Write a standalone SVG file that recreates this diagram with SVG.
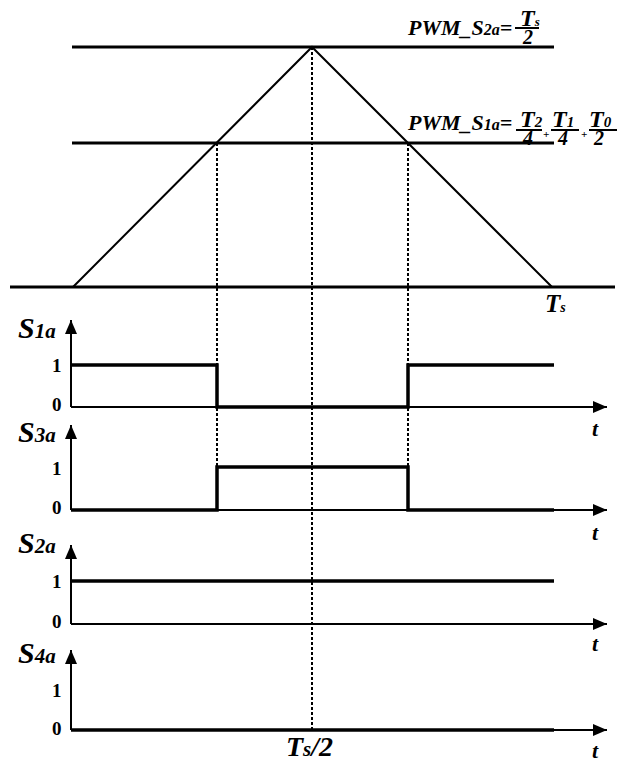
<svg xmlns="http://www.w3.org/2000/svg" width="619" height="765" viewBox="0 0 619 765">
<style>
.lbl{font-family:"Liberation Serif","Times New Roman",serif;font-weight:bold;font-style:italic;fill:#000}
.num{font-family:"Liberation Serif","Times New Roman",serif;font-weight:bold;fill:#000;font-size:19px}
.ref{stroke:#000;stroke-width:3;fill:none}
.tri{stroke:#000;stroke-width:2;fill:none}
.axis{stroke:#000;stroke-width:2;fill:none}
.sig{stroke:#000;stroke-width:3.5;fill:none;stroke-linejoin:miter}
.dash{stroke:#000;stroke-width:2;stroke-dasharray:3 2;fill:none}
.bar{stroke:#000;stroke-width:2}
</style>
<defs>
<marker id="ah" viewBox="0 0 14 12" refX="14" refY="6" markerWidth="14" markerHeight="12" markerUnits="userSpaceOnUse" orient="auto">
<path d="M0,0 L14,6 L0,12 Z" fill="#000"/>
</marker>
</defs>

<g id="carrier">
<line class="ref" x1="72" y1="47" x2="554" y2="47"/>
<line class="ref" x1="72" y1="143" x2="554" y2="143"/>
<line class="ref" x1="10" y1="287" x2="615" y2="287" stroke-width="3.5"/>
<polyline class="tri" points="73,287 312,47 552,287"/>
</g>

<g id="label-pwm-s2a">
<text class="lbl" x="408" y="35" font-size="22">PWM_S<tspan font-size="16">2a</tspan>=</text>
<line class="bar" x1="515" y1="28" x2="539" y2="28"/>
<text class="lbl" x="520" y="26" font-size="24">T<tspan font-size="13">s</tspan></text>
<text class="lbl" x="523" y="44" font-size="20">2</text>
</g>

<g id="label-pwm-s1a">
<text class="lbl" x="408" y="130" font-size="22">PWM_S<tspan font-size="16">1a</tspan>=</text>
<line class="bar" x1="516" y1="130" x2="542" y2="130"/>
<text class="lbl" x="520" y="127" font-size="24">T<tspan font-size="15">2</tspan></text>
<text class="lbl" x="523" y="145" font-size="20">4</text>
<text class="lbl" x="543" y="138" font-size="11">+</text>
<line class="bar" x1="551" y1="130" x2="579" y2="130"/>
<text class="lbl" x="552" y="127" font-size="24">T<tspan font-size="15">1</tspan></text>
<text class="lbl" x="558" y="145" font-size="20">4</text>
<text class="lbl" x="581" y="138" font-size="11">+</text>
<line class="bar" x1="589" y1="130" x2="617" y2="130"/>
<text class="lbl" x="589" y="127" font-size="24">T<tspan font-size="15">0</tspan></text>
<text class="lbl" x="594" y="145" font-size="20">2</text>
</g>

<g id="label-ts">
<text class="lbl" x="545" y="312" font-size="25">T<tspan font-size="14">s</tspan></text>
</g>

<g id="panel-s1a">
<line class="axis" x1="71" y1="407" x2="71" y2="320" marker-end="url(#ah)"/>
<line class="axis" x1="71" y1="407" x2="607" y2="407" marker-end="url(#ah)"/>
<polyline class="sig" points="71,365 217,365 217,407 408,407 408,365 554,365"/>
<text class="lbl" x="18" y="338" font-size="30">S<tspan font-size="21">1a</tspan></text>
<text class="num" x="52" y="372">1</text>
<text class="num" x="52" y="411">0</text>
<text class="lbl" x="592" y="436" font-size="22">t</text>
</g>

<g id="panel-s3a">
<line class="axis" x1="71" y1="510" x2="71" y2="425" marker-end="url(#ah)"/>
<line class="axis" x1="71" y1="510" x2="607" y2="510" marker-end="url(#ah)"/>
<polyline class="sig" points="71,510 217,510 217,467 408,467 408,510 554,510"/>
<text class="lbl" x="18" y="442" font-size="30">S<tspan font-size="21">3a</tspan></text>
<text class="num" x="52" y="475">1</text>
<text class="num" x="52" y="514">0</text>
<text class="lbl" x="592" y="540" font-size="22">t</text>
</g>

<g id="panel-s2a">
<line class="axis" x1="71" y1="624" x2="71" y2="545" marker-end="url(#ah)"/>
<line class="axis" x1="71" y1="624" x2="607" y2="624" marker-end="url(#ah)"/>
<line class="sig" x1="71" y1="581" x2="554" y2="581"/>
<text class="lbl" x="18" y="553" font-size="30">S<tspan font-size="21">2a</tspan></text>
<text class="num" x="52" y="588">1</text>
<text class="num" x="52" y="628">0</text>
<text class="lbl" x="592" y="651" font-size="22">t</text>
</g>

<g id="panel-s4a">
<line class="axis" x1="71" y1="730" x2="71" y2="650" marker-end="url(#ah)"/>
<line class="axis" x1="71" y1="730" x2="607" y2="730" marker-end="url(#ah)"/>
<line class="sig" x1="71" y1="730" x2="554" y2="730"/>
<text class="lbl" x="18" y="663" font-size="30">S<tspan font-size="21">4a</tspan></text>
<text class="num" x="52" y="697">1</text>
<text class="num" x="52" y="735">0</text>
<text class="lbl" x="592" y="758" font-size="22">t</text>
</g>

<g id="label-ts2">
<text class="lbl" x="286" y="756" font-size="28">T<tspan font-size="21">s</tspan>/2</text>
</g>

<g id="connectors">
<line class="dash" x1="217" y1="143" x2="217" y2="467"/>
<line class="dash" x1="408" y1="143" x2="408" y2="467"/>
<line class="dash" x1="312" y1="47" x2="312" y2="730"/>
</g>
</svg>
